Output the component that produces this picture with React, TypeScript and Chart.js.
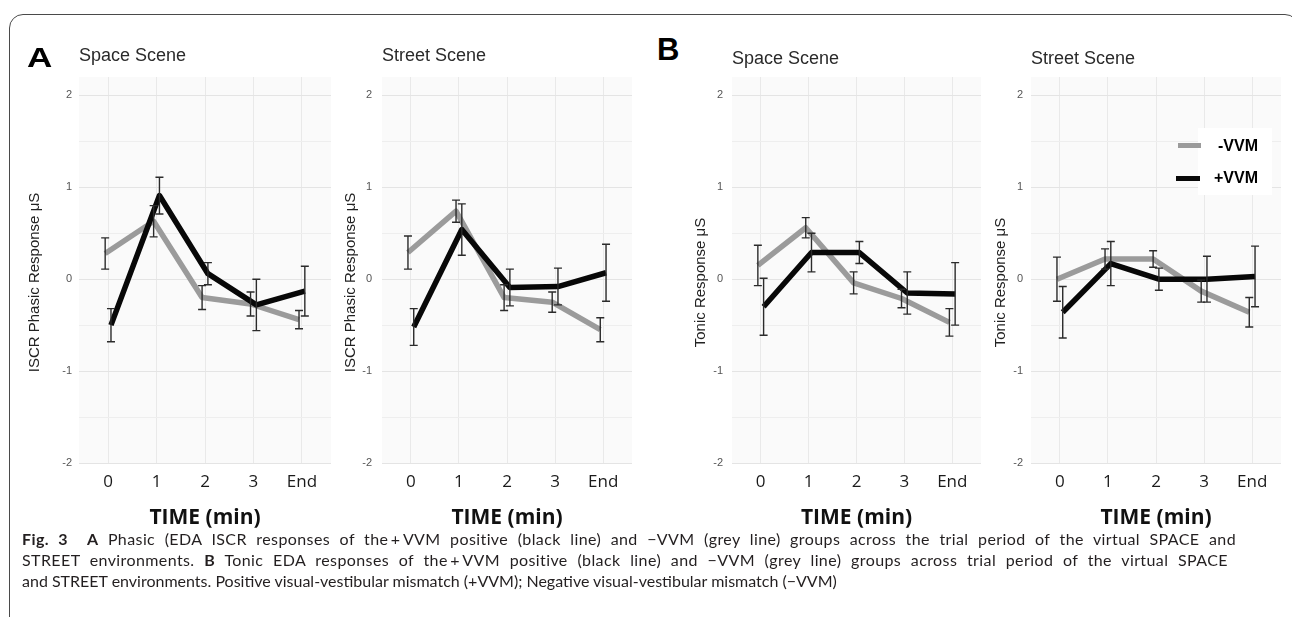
import React, { useEffect, useRef } from "react";
import { Chart, registerables } from "chart.js";
Chart.register(...registerables);

const timeLabels = ["0", "1", "2", "3", "End"];
const yTickValues = [-2, -1.5, -1, -0.5, 0, 0.5, 1, 1.5, 2];
const seriesNames = ["+VVM", "-VVM"];

// A – phasic, Space Scene
const phasicSpaceNeg = [0.28, 0.63, -0.2, -0.27, -0.44];
const phasicSpaceNegErr = [0.17, 0.17, 0.13, 0.13, 0.1];
const phasicSpacePos = [-0.5, 0.91, 0.06, -0.28, -0.13];
const phasicSpacePosErr = [0.18, 0.2, 0.12, 0.28, 0.27];
// A – phasic, Street Scene
const phasicStreetNeg = [0.29, 0.74, -0.2, -0.25, -0.55];
const phasicStreetNegErr = [0.18, 0.12, 0.14, 0.11, 0.13];
const phasicStreetPos = [-0.52, 0.54, -0.09, -0.08, 0.07];
const phasicStreetPosErr = [0.2, 0.28, 0.2, 0.2, 0.31];
// B – tonic, Space Scene
const tonicSpaceNeg = [0.15, 0.56, -0.04, -0.21, -0.47];
const tonicSpaceNegErr = [0.22, 0.11, 0.12, 0.1, 0.15];
const tonicSpacePos = [-0.3, 0.29, 0.29, -0.15, -0.16];
const tonicSpacePosErr = [0.31, 0.21, 0.12, 0.23, 0.34];
// B – tonic, Street Scene
const tonicStreetNeg = [0.0, 0.22, 0.22, -0.13, -0.36];
const tonicStreetNegErr = [0.24, 0.11, 0.09, 0.12, 0.16];
const tonicStreetPos = [-0.36, 0.17, 0.0, 0.0, 0.03];
const tonicStreetPosErr = [0.28, 0.24, 0.12, 0.25, 0.33];

const DODGE = 0.06;
const GREY = "#9b9b9b";
const BLACK = "#080808";

type PanelCfg = {
  left: number; top: number; width: number; height: number;
  yW: number; yPad: number; title: string; tPadTop: number; tPadBottom: number;
  yTitle: string; neg: number[]; negErr: number[]; pos: number[]; posErr: number[];
};

const panels: PanelCfg[] = [
  { left: 25, top: 30, width: 306, height: 518, yW: 54, yPad: 7, title: "Space Scene", tPadTop: 15, tPadBottom: 10.4,
    yTitle: "ISCR Phasic Response μS      ", neg: phasicSpaceNeg, negErr: phasicSpaceNegErr, pos: phasicSpacePos, posErr: phasicSpacePosErr },
  { left: 341, top: 30, width: 291, height: 518, yW: 41, yPad: 10, title: "Street Scene", tPadTop: 15.5, tPadBottom: 9.9,
    yTitle: "ISCR Phasic Response μS      ", neg: phasicStreetNeg, negErr: phasicStreetNegErr, pos: phasicStreetPos, posErr: phasicStreetPosErr },
  { left: 691, top: 30, width: 290, height: 518, yW: 41, yPad: 9, title: "Space Scene", tPadTop: 18, tPadBottom: 7.4,
    yTitle: "Tonic Response μS      ", neg: tonicSpaceNeg, negErr: tonicSpaceNegErr, pos: tonicSpacePos, posErr: tonicSpacePosErr },
  { left: 991, top: 30, width: 290, height: 518, yW: 40, yPad: 8, title: "Street Scene", tPadTop: 18, tPadBottom: 7.4,
    yTitle: "Tonic Response μS      ", neg: tonicStreetNeg, negErr: tonicStreetNegErr, pos: tonicStreetPos, posErr: tonicStreetPosErr },
];

const bgPlugin = {
  id: "areaBg",
  beforeDraw(chart: any) {
    const { ctx, chartArea } = chart;
    ctx.save();
    ctx.fillStyle = "#fafafa";
    ctx.fillRect(chartArea.left, chartArea.top, chartArea.right - chartArea.left, chartArea.bottom - chartArea.top);
    ctx.restore();
  },
};

const errorBarPlugin = {
  id: "errorBars",
  afterDatasetsDraw(chart: any) {
    const { ctx } = chart;
    const yScale = chart.scales.y;
    chart.data.datasets.forEach((ds: any, di: number) => {
      const errs: number[] = ds.errors;
      if (!errs) return;
      const meta = chart.getDatasetMeta(di);
      ctx.save();
      ctx.strokeStyle = "#2b2b2b";
      ctx.lineWidth = 1.4;
      meta.data.forEach((pt: any, i: number) => {
        const v = ds.data[i].y;
        const e = errs[i];
        const x = pt.x;
        const y1 = yScale.getPixelForValue(v + e);
        const y2 = yScale.getPixelForValue(v - e);
        ctx.beginPath();
        ctx.moveTo(x, y1); ctx.lineTo(x, y2);
        ctx.moveTo(x - 4, y1); ctx.lineTo(x + 4, y1);
        ctx.moveTo(x - 4, y2); ctx.lineTo(x + 4, y2);
        ctx.stroke();
      });
      ctx.restore();
    });
  },
};

function makeConfig(p: PanelCfg): any {
  const toPts = (vals: number[], d: number) => vals.map((y, i) => ({ x: i + d, y }));
  return {
    type: "line",
    data: {
      datasets: [
        { label: seriesNames[0], data: toPts(p.pos, DODGE), errors: p.posErr, borderColor: BLACK, borderWidth: 5.5,
          pointRadius: 0, tension: 0, borderJoinStyle: "round" },
        { label: seriesNames[1], data: toPts(p.neg, -DODGE), errors: p.negErr, borderColor: GREY, borderWidth: 5.5,
          pointRadius: 0, tension: 0, borderJoinStyle: "round" },
      ],
    },
    options: {
      animation: false,
      responsive: false,
      devicePixelRatio: 1,
      layout: { padding: 0 },
      plugins: {
        legend: { display: false },
        tooltip: { enabled: false },
        title: {
          display: true, text: p.title, align: "start", fullSize: false, color: "#2a2a2a",
          font: { family: "Liberation Sans", size: 18, weight: "normal", lineHeight: 1.2 },
          padding: { top: p.tPadTop, bottom: p.tPadBottom },
        },
      },
      scales: {
        x: {
          type: "linear", min: -0.6, max: 4.6,
          afterBuildTicks: (s: any) => { s.ticks = timeLabels.map((_, i) => ({ value: i })); },
          afterFit: (s: any) => { s.height = 85; },
          ticks: {
            callback: (v: number) => timeLabels[v] ?? "",
            autoSkip: false, maxRotation: 0, padding: 9, color: "#1a1a1a",
            font: { family: "Open Sans", size: 17, lineHeight: 1.2 },
          },
          grid: { color: "#e9e9e9", drawTicks: false },
          border: { display: false },
          title: {
            display: true, text: "TIME (min)", color: "#111",
            font: { family: "Open Sans", size: 21, weight: "bold", lineHeight: 1.2 },
            padding: { top: 0, bottom: 17 },
          },
        },
        y: {
          type: "linear", min: -2, max: 2.2,
          afterBuildTicks: (s: any) => { s.ticks = yTickValues.map((v) => ({ value: v })); },
          afterFit: (s: any) => { s.width = p.yW; },
          ticks: {
            callback: (v: number) => (Number.isInteger(v) ? String(v) : ""),
            padding: p.yPad, color: "#555",
            font: { family: "Liberation Sans", size: 11 },
          },
          grid: {
            color: (c: any) => (c.tick && Number.isInteger(c.tick.value) ? "#e4e4e4" : "#eeeeee"),
            drawTicks: false,
          },
          border: { display: false },
          title: {
            display: true, text: p.yTitle, color: "#222",
            font: { family: "Liberation Sans", size: 15, lineHeight: 1.2 },
            padding: { top: 1, bottom: 0 },
          },
        },
      },
    },
    plugins: [bgPlugin, errorBarPlugin],
  };
}

export default function App() {
  const refs = useRef<(HTMLCanvasElement | null)[]>([]);

  useEffect(() => {
    const charts = panels.map((p, i) => new Chart(refs.current[i] as HTMLCanvasElement, makeConfig(p)));
    return () => charts.forEach((c) => c.destroy());
  }, []);

  const abs = (s: React.CSSProperties): React.CSSProperties => ({ position: "absolute", ...s });

  return (
    <div style={abs({ left: 0, top: 0, width: 1292, height: 617, overflow: "hidden", background: "#fff" })}>
      <div style={abs({ left: 9, top: 14, width: 1290, height: 700, boxSizing: "border-box",
        border: "1.5px solid #4a4a4a", borderRadius: "14px 14px 0 0" })} />
      {panels.map((p, i) => (
        <canvas key={i} ref={(el) => { refs.current[i] = el; }} width={p.width} height={p.height}
          style={abs({ left: p.left, top: p.top, width: p.width, height: p.height })} />
      ))}
      <div style={abs({ left: 27, top: 44, fontFamily: "Liberation Sans", fontWeight: 700, fontSize: 28, lineHeight: "28px",
        color: "#000", transform: "scaleX(1.25)", transformOrigin: "left top" })}>A</div>
      <div style={abs({ left: 657, top: 34, fontFamily: "Liberation Sans", fontWeight: 700, fontSize: 31, lineHeight: "31px", color: "#000" })}>B</div>
      <div style={abs({ left: 1198, top: 128, width: 74, height: 67, background: "#fff" })} />
      <div style={abs({ left: 1178, top: 143, width: 23, height: 5, background: GREY })} />
      <div style={abs({ left: 1176, top: 176, width: 24, height: 5, background: BLACK })} />
      <div style={abs({ left: 1205, top: 137, width: 53, textAlign: "right", fontFamily: "Liberation Sans", fontWeight: 700, fontSize: 16, lineHeight: "18px", color: "#000" })}>{seriesNames[1]}</div>
      <div style={abs({ left: 1205, top: 169, width: 53, textAlign: "right", fontFamily: "Liberation Sans", fontWeight: 700, fontSize: 16, lineHeight: "18px", color: "#000" })}>{seriesNames[0]}</div>
      <div style={abs({ left: 22, top: 528, width: 1214, fontFamily: "Lato", fontSize: 16, lineHeight: "21px", color: "#231f20" })}>
        <div style={{ textAlign: "justify", textAlignLast: "justify", letterSpacing: "0.4px" } as any}>
          <b>Fig. 3</b>&nbsp;&nbsp;<b>A</b> Phasic (EDA ISCR responses of the&#8201;+&#8201;VVM positive (black line) and −VVM (grey line) groups across the trial period of the virtual SPACE and
        </div>
        <div style={{ textAlign: "justify", textAlignLast: "justify", letterSpacing: "0.4px", paddingRight: 8 } as any}>
          STREET environments. <b>B</b> Tonic EDA responses of the&#8201;+&#8201;VVM positive (black line) and −VVM (grey line) groups across trial period of the virtual SPACE
        </div>
        <div style={{ textAlign: "left", whiteSpace: "nowrap" }}>
          and STREET environments. Positive visual-vestibular mismatch (+VVM); Negative visual-vestibular mismatch (−VVM)
        </div>
      </div>
    </div>
  );
}
